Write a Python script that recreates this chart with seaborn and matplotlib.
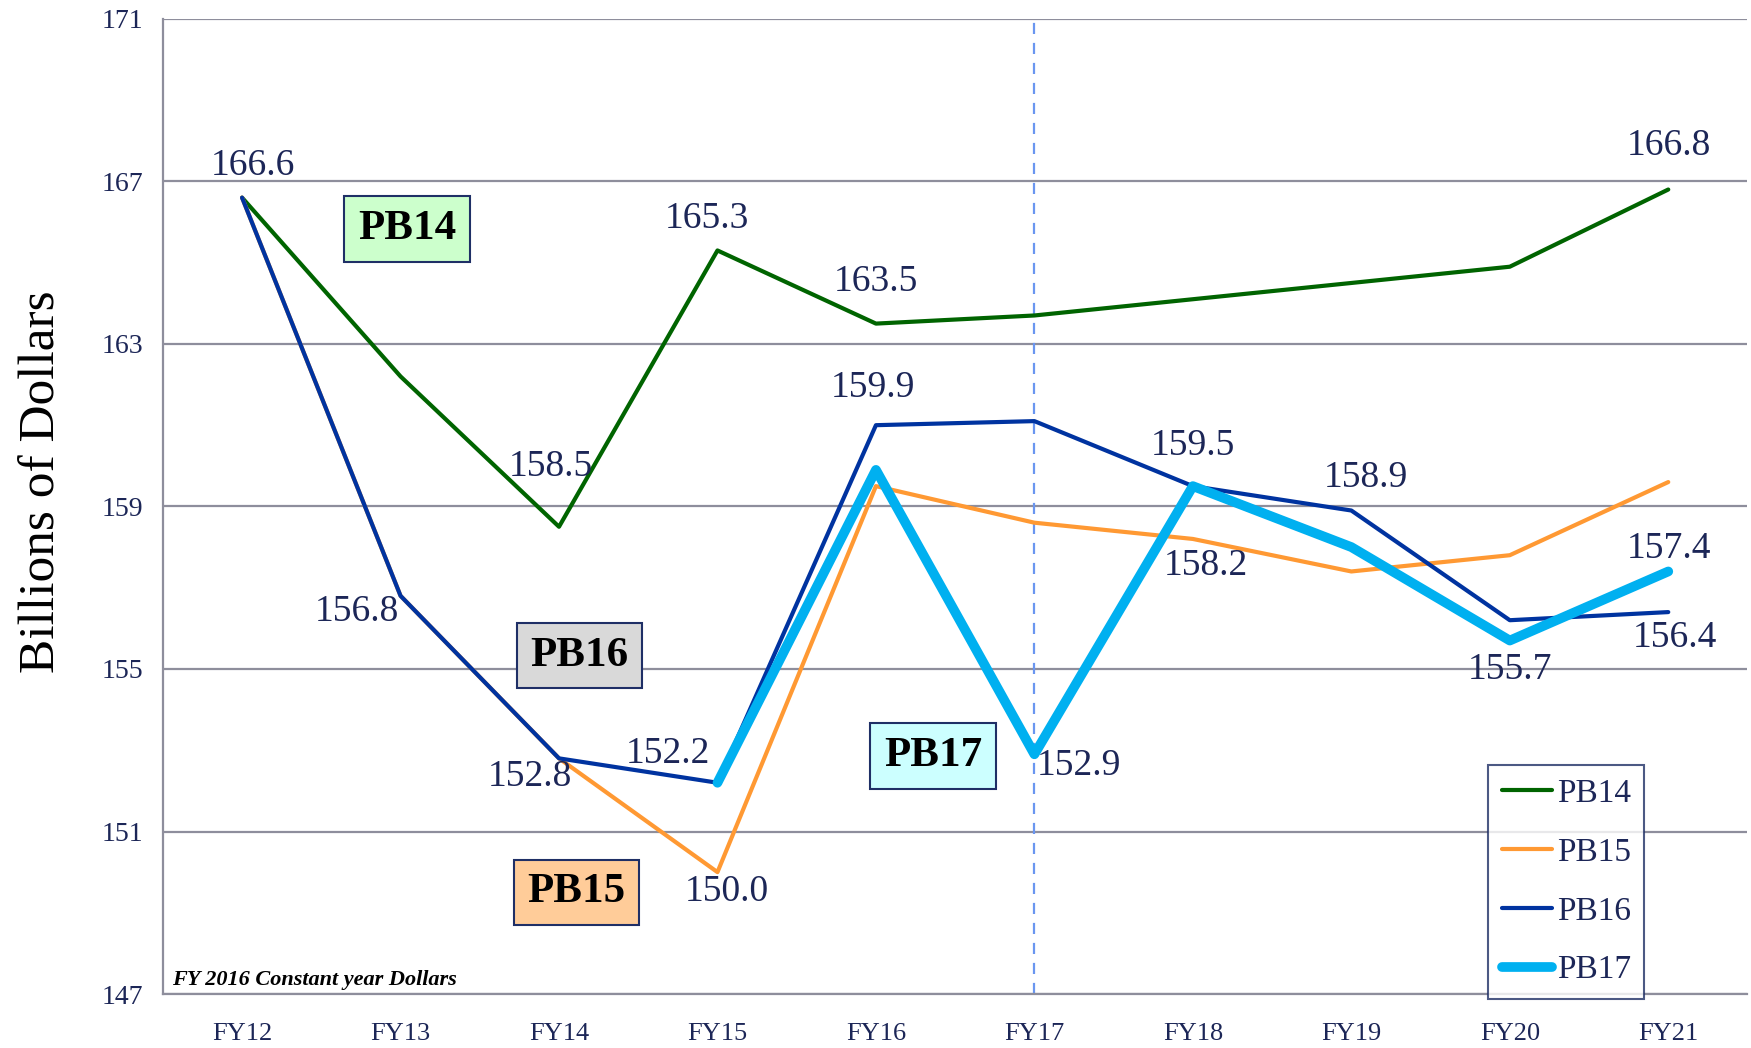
import matplotlib.pyplot as plt
import numpy as np
import pandas as pd
import seaborn as sns

years = ["FY12", "FY13", "FY14", "FY15", "FY16", "FY17", "FY18", "FY19", "FY20", "FY21"]
pb14 = [166.6, 162.2, 158.5, 165.3, 163.5, 163.7, 164.1, 164.5, 164.9, 166.8]
pb15 = [166.6, 156.8, 152.8, 150.0, 159.5, 158.6, 158.2, 157.4, 157.8, 159.6]
pb16 = [166.6, 156.8, 152.8, 152.2, 161.0, 161.1, 159.5, 158.9, 156.2, 156.4]
pb17_years = years[3:]
pb17 = [152.2, 159.9, 152.9, 159.5, 158.0, 155.7, 157.4]
plans = ["PB14", "PB15", "PB16", "PB17"]

series = {
    "PB14": (years, pb14),
    "PB15": (years, pb15),
    "PB16": (years, pb16),
    "PB17": (pb17_years, pb17),
}

rows = []
for plan, (xs, vals) in series.items():
    for yr, v in zip(xs, vals):
        rows.append({"year": yr, "value": v, "plan": plan})
df = pd.DataFrame(rows)

colors = {"PB14": "#006400", "PB15": "#FF9933", "PB16": "#0033A0", "PB17": "#00B0F0"}
widths = {"PB14": 3.0, "PB15": 3.0, "PB16": 3.0, "PB17": 7.0}
navy = "#1C2657"
grid = "#8E8E9C"

# which value gets a label, and where (offset in pixels from the point)
point_labels = [
    ("PB14", "FY12", 11, 32), ("PB16", "FY13", -44, -16), ("PB14", "FY14", -8, 60),
    ("PB14", "FY15", -11, 32), ("PB14", "FY16", 0, 42), ("PB17", "FY16", -3, 82),
    ("PB16", "FY14", -29, -18), ("PB16", "FY15", -50, 29), ("PB15", "FY15", 9, -20),
    ("PB17", "FY17", 45, -11), ("PB16", "FY18", 0, 40), ("PB15", "FY18", 13, -27),
    ("PB16", "FY19", 15, 33), ("PB17", "FY20", 0, -29), ("PB17", "FY21", 1, 23),
    ("PB16", "FY21", 7, -26), ("PB14", "FY21", 1, 44),
]
box_labels = [
    ("PB14", 1.04, 165.83, "#CCFFCC"),
    ("PB16", 2.13, 155.33, "#D9D9D9"),
    ("PB15", 2.11, 149.5, "#FFCC99"),
    ("PB17", 4.36, 152.86, "#CCFFFF"),
]

sns.set_style("white")
plt.rcParams["font.family"] = ["Liberation Serif", "DejaVu Serif"]

fig = plt.figure(figsize=(17.51, 10.48), dpi=100)
ax = fig.add_axes([0.093, 0.0515, 0.905, 0.9305])

sns.lineplot(data=df, x="year", y="value", hue="plan", size="plan",
             hue_order=plans, size_order=plans, palette=colors, sizes=widths,
             errorbar=None, legend=False, sort=False, ax=ax)

ax.set_xlim(-0.5, 9.5)
ax.set_ylim(147, 171)
ax.set_yticks(np.arange(147, 172, 4))
ax.yaxis.grid(True, color=grid, linewidth=1.6)
ax.xaxis.grid(False)
ax.set_axisbelow(True)
for s in ["top", "right"]:
    ax.spines[s].set_visible(False)
for s in ["left", "bottom"]:
    ax.spines[s].set_color(grid)
    ax.spines[s].set_linewidth(1.6)

ax.set_xticks(np.arange(-0.5, 10, 1), minor=True)
ax.tick_params(axis="x", which="major", length=0, pad=21, labelsize=19, labelcolor=navy)
ax.tick_params(axis="x", which="minor", length=10, width=1.6, color=grid)
ax.tick_params(axis="y", length=8, width=1.6, color=grid, pad=6, labelsize=20, labelcolor=navy)
ax.set_xlabel("")
ax.set_ylabel("")
fig.text(0.024, 0.54, "Billions of Dollars", rotation=90, ha="center", va="center",
         fontsize=37, color="black")

ax.axvline(years.index("FY17"), color="#6A96F0", linestyle=(0, (5, 4)), linewidth=1.6, zorder=1)

for plan, yr, dx, dy in point_labels:
    xs, vals = series[plan]
    v = vals[xs.index(yr)]
    ax.annotate(f"{v:.1f}", xy=(years.index(yr), v), xytext=(dx, dy),
                textcoords="offset pixels", ha="center", va="center",
                fontsize=27, color=navy)

for text, bx, by, face in box_labels:
    ax.text(bx, by, text, ha="center", va="center", fontsize=31, fontweight="bold",
            color="black",
            bbox=dict(boxstyle="square,pad=0.32", facecolor=face, edgecolor="#1F2F66", linewidth=1.5))

ax.text(0.006, 0.004, "FY 2016 Constant year Dollars", transform=ax.transAxes,
        ha="left", va="bottom", fontsize=16, fontstyle="italic", fontweight="bold", color="black")

handles = ax.get_lines()[:4]
leg = ax.legend(handles, plans, loc="lower left", bbox_to_anchor=(0.850, 0.047),
                bbox_transform=fig.transFigure, fontsize=24, frameon=True, fancybox=False,
                labelspacing=0.85, handlelength=1.5, handletextpad=0.15,
                borderpad=0.4, borderaxespad=0, labelcolor=navy)
leg.get_frame().set_edgecolor("#1F2F66")
leg.get_frame().set_linewidth(1.5)

fig.savefig("out.png", dpi=100)
